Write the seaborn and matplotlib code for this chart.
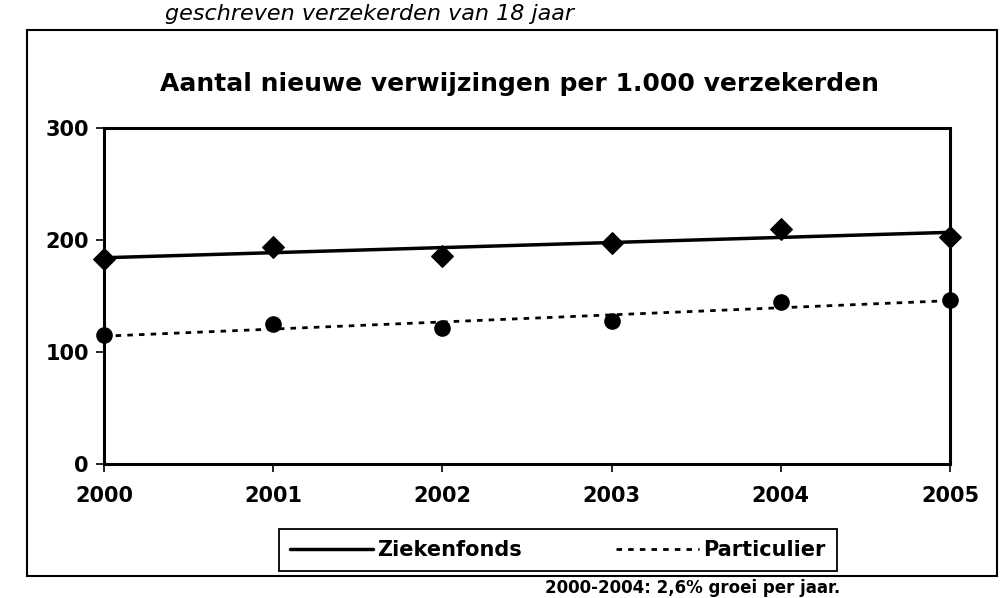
import matplotlib
matplotlib.use("Agg")
from matplotlib import pyplot as plt
from matplotlib.lines import Line2D
import seaborn as sns

# values (new referrals per 1,000 insured)
years = [2000, 2001, 2002, 2003, 2004, 2005]
year_labels = ["2000", "2001", "2002", "2003", "2004", "2005"]
ziekenfonds = [183, 194, 186, 197, 210, 203]
particulier = [115, 125, 121, 128, 145, 146]
y_ticks = [0, 100, 200, 300]

title = "Aantal nieuwe verwijzingen per 1.000 verzekerden"
series_names = ["Ziekenfonds", "Particulier"]
caption_top = "geschreven verzekerden van 18 jaar"
caption_bottom = "2000-2004: 2,6% groei per jaar."

sns.set_theme(style="white")
plt.rcParams["font.family"] = ["DejaVu Sans"]
plt.rcParams["text.color"] = "black"

fig = plt.figure(figsize=(10.06, 5.98), dpi=100)
ax = fig.add_axes([104 / 1006, 1 - 464 / 598, (950 - 104) / 1006, (464 - 128) / 598])

# Ziekenfonds: diamonds + linear trend line
sns.regplot(x=years, y=ziekenfonds, ax=ax, ci=None, marker="D",
            scatter_kws={"s": 120, "color": "black", "alpha": 1,
                         "clip_on": False, "zorder": 4},
            line_kws={"color": "black", "lw": 2.5, "solid_capstyle": "butt"})
# Particulier: dots + dotted trend line
sns.regplot(x=years, y=particulier, ax=ax, ci=None, marker="o",
            scatter_kws={"s": 120, "color": "black", "alpha": 1,
                         "clip_on": False, "zorder": 4},
            line_kws={"color": "black", "lw": 2, "linestyle": (0, (2, 2.2))})

ax.set_xlim(years[0], years[-1])
ax.set_ylim(0, 300)
ax.set_yticks(y_ticks)
ax.set_xticks(years)
ax.set_xticklabels(year_labels)
ax.set_xlabel("")
ax.set_ylabel("")
for s in ax.spines.values():
    s.set_color("black")
    s.set_linewidth(2.2)
ax.tick_params(axis="both", which="major", direction="out", length=6, width=1.2,
               color="black", labelsize=15, labelcolor="black", pad=5,
               bottom=True, left=True)
for lab in ax.get_xticklabels() + ax.get_yticklabels():
    lab.set_fontweight("bold")
ax.tick_params(axis="x", pad=10)

# chart title and outer chart border
fig.text(520 / 1006, 1 - 84 / 598, title, ha="center", va="center",
         fontsize=18, fontweight="bold", color="black")
fig.patches.append(plt.Rectangle((27 / 1006, 1 - 576 / 598), (997 - 27) / 1006,
                                 (576 - 30) / 598, transform=fig.transFigure,
                                 fill=False, edgecolor="black", lw=1.5))

# legend (lines only, like the original)
handles = [Line2D([], [], color="black", lw=2.5),
           Line2D([], [], color="black", lw=2, linestyle=(0, (2, 2.2)))]
leg = fig.legend(handles, series_names, loc="center",
                 bbox_to_anchor=(558 / 1006, 1 - 550 / 598), ncol=2,
                 frameon=True, fancybox=False, edgecolor="black", framealpha=1,
                 handlelength=4, handletextpad=0.2, columnspacing=4.5,
                 borderpad=0.55, prop={"size": 15, "weight": "bold"})
leg.get_frame().set_linewidth(1.3)
for t in leg.get_texts():
    t.set_color("black")

# caption lines of the scanned page, above and below the chart frame
fig.text(165 / 1006, 1 - 20 / 598, caption_top, ha="left", va="baseline",
         fontsize=16, style="italic", color="black")
fig.text(545 / 1006, 1 - 593 / 598, caption_bottom, ha="left", va="baseline",
         fontsize=12, fontweight="bold", color="black")

fig.savefig("out.png", dpi=100)
